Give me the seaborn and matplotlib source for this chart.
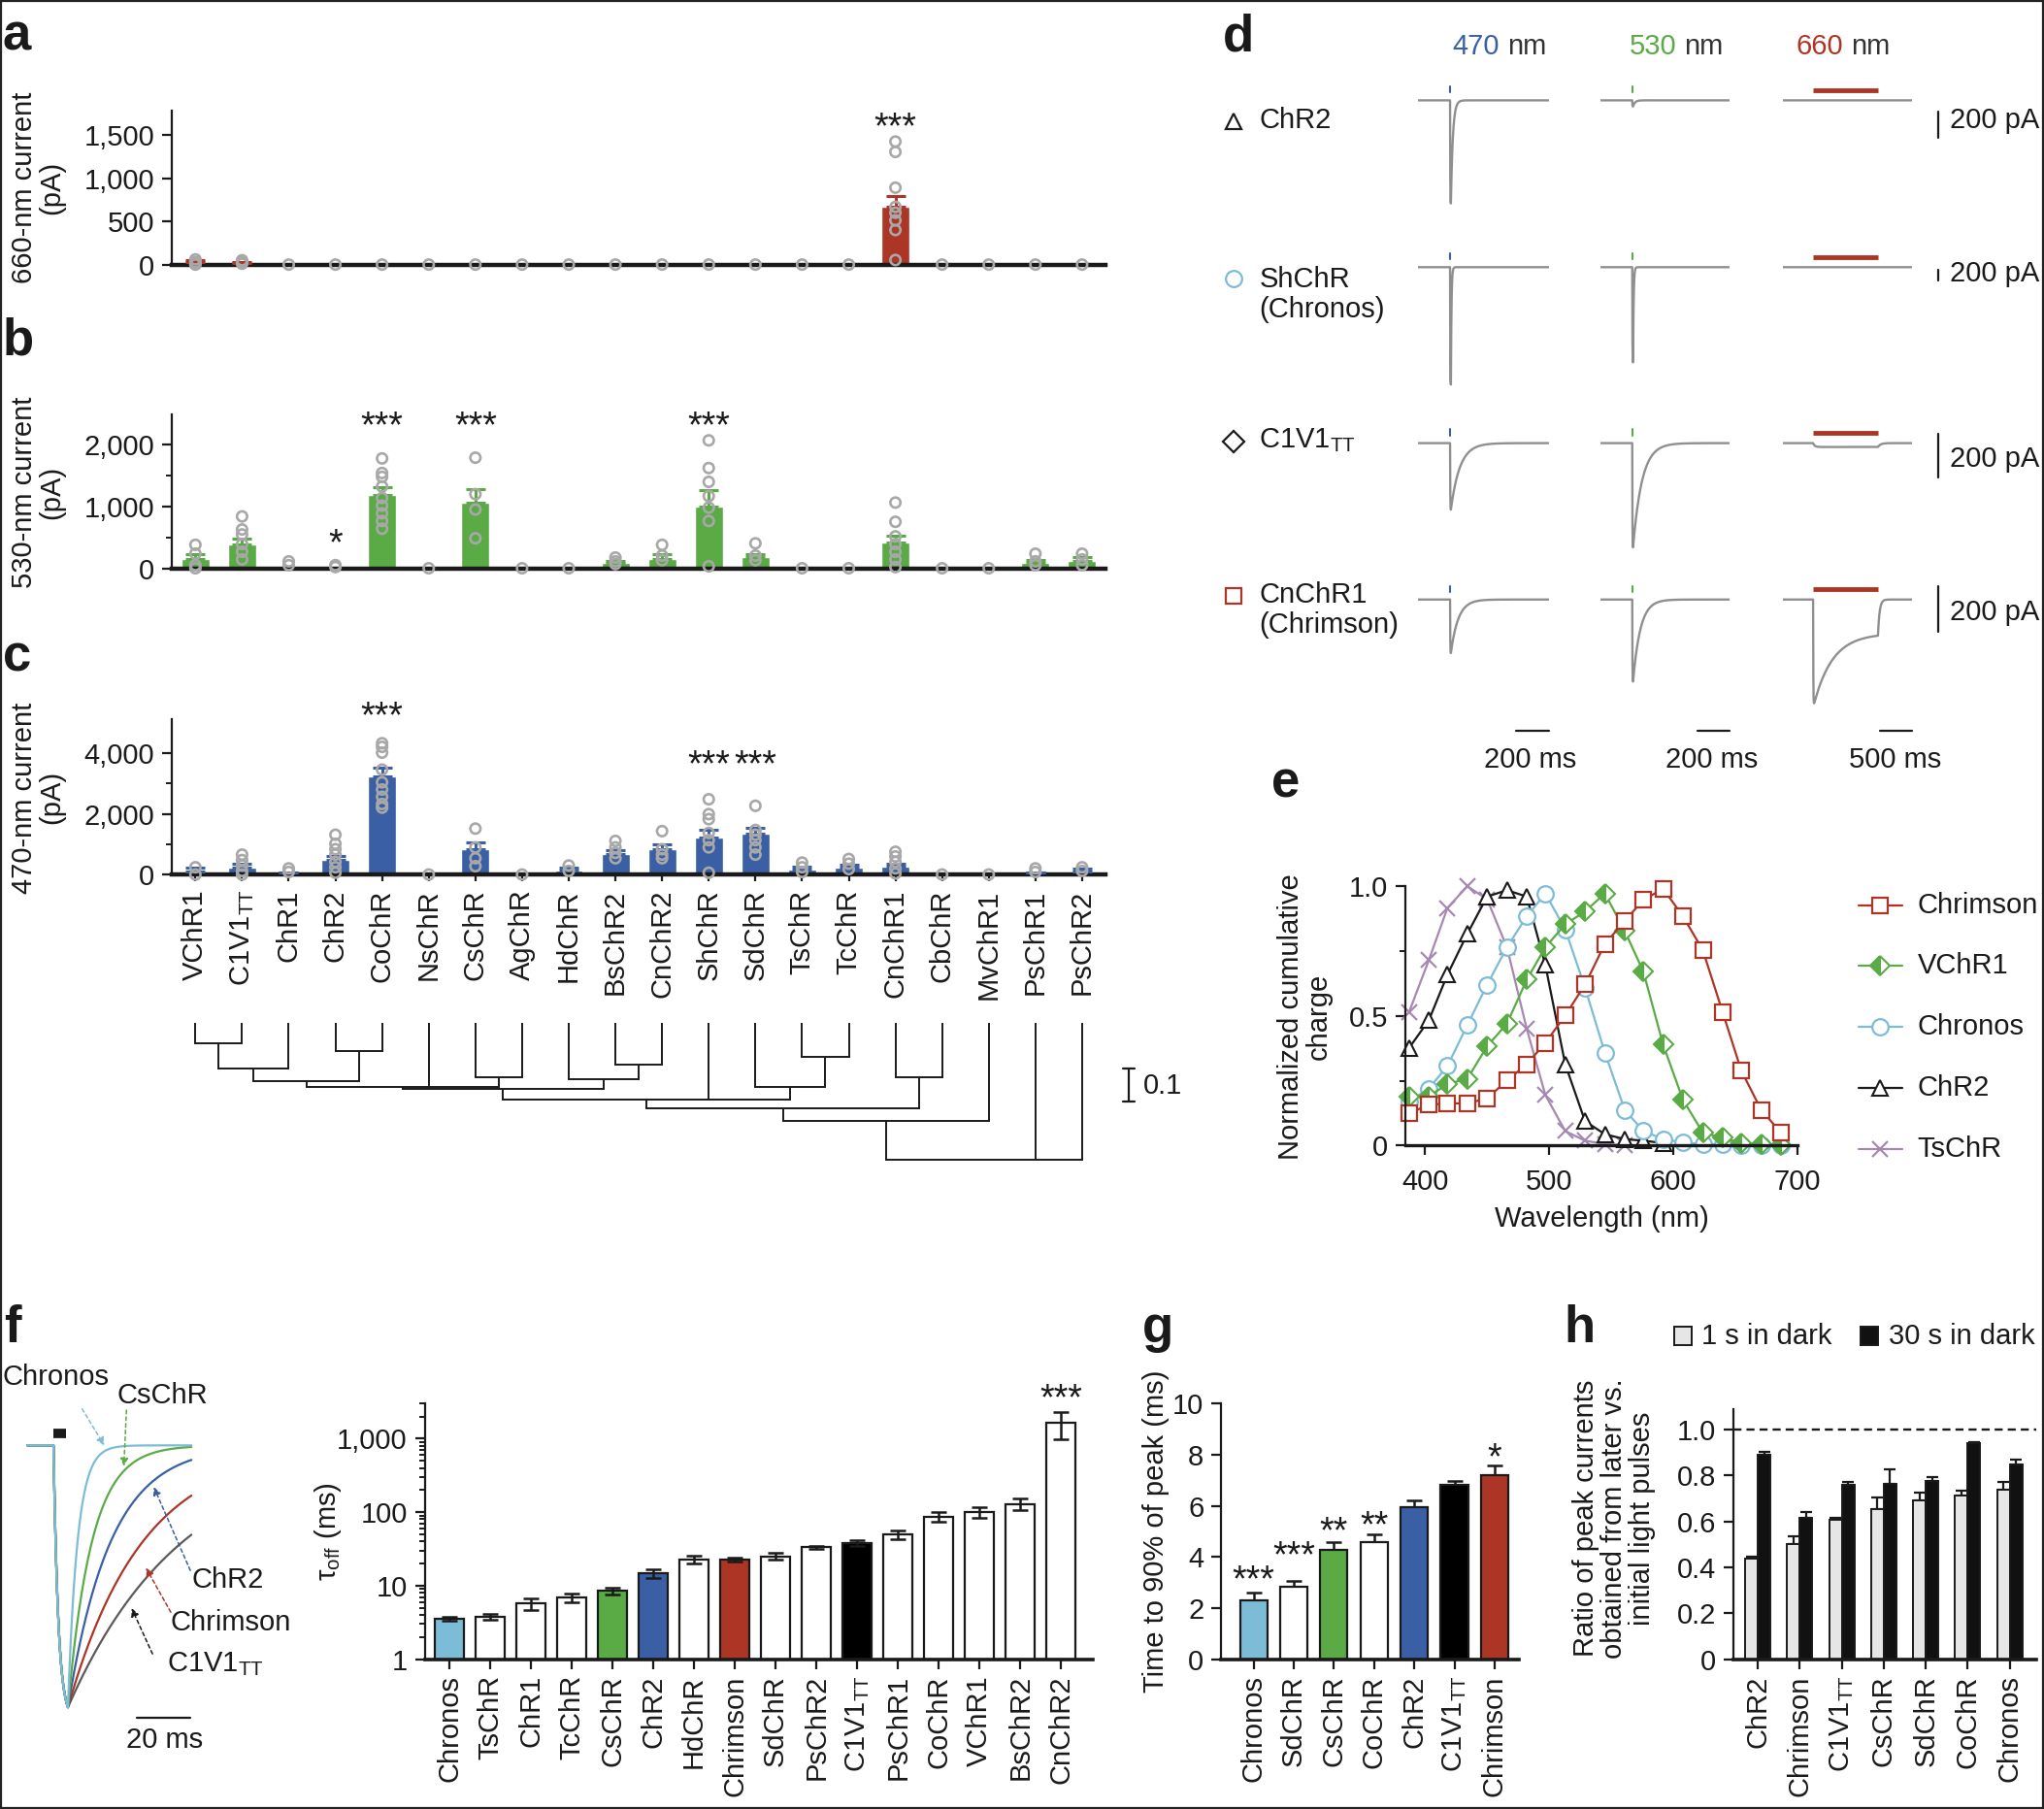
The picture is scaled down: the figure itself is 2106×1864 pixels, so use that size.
import numpy as np
import pandas as pd
import matplotlib
matplotlib.use("Agg")
import matplotlib.pyplot as plt
import seaborn as sns
from matplotlib.patches import Rectangle
from matplotlib.ticker import FuncFormatter, FixedLocator, LogLocator, NullFormatter
from matplotlib.transforms import offset_copy

# ======================= DATA =======================
categories = ['VChR1', 'C1V1TT', 'ChR1', 'ChR2', 'CoChR', 'NsChR', 'CsChR', 'AgChR', 'HdChR', 'BsChR2',
              'CnChR2', 'ShChR', 'SdChR', 'TsChR', 'TcChR', 'CnChR1', 'CbChR', 'MvChR1', 'PsChR1', 'PsChR2']

mean660 = [30, 20, 0, 0, 0, 0, 0, 0, 0, 0, 0, 0, 0, 0, 0, 668, 0, 0, 0, 0]
sem660 = [20, 12, 0, 0, 0, 0, 0, 0, 0, 0, 0, 0, 0, 0, 0, 124, 0, 0, 0, 0]
pts660 = {c: [0] for c in categories}
pts660.update({'VChR1': [60, 30, 10, 0], 'C1V1TT': [50, 30, 10],
               'CnChR1': [1424, 1304, 890, 668, 600, 512, 400, 53]})

mean530 = [142, 390, 31, 25, 1183, 0, 1059, 0, 0, 93, 155, 991, 186, 0, 0, 421, 0, 0, 80, 111]
sem530 = [93, 80, 0, 0, 123, 0, 223, 0, 0, 20, 68, 272, 49, 0, 0, 105, 0, 0, 50, 62]
pts530 = {c: [0] for c in categories}
pts530.update({
    'VChR1': [378, 235, 50, 0], 'C1V1TT': [836, 625, 545, 390, 266, 142],
    'ChR1': [111, 50], 'ChR2': [50, 20],
    'CoChR': [1771, 1536, 1474, 1319, 1133, 1009, 885, 762, 638],
    'CsChR': [1783, 1195, 947, 483], 'BsChR2': [173, 111, 68], 'CnChR2': [378, 204, 130],
    'ShChR': [2062, 1616, 1393, 1164, 978, 762, 31], 'SdChR': [402, 204, 130],
    'CnChR1': [1059, 749, 514, 390, 266, 142, 19], 'PsChR1': [235, 111, 50], 'PsChR2': [235, 142, 50]})

mean470 = [96, 239, 60, 478, 3248, 0, 836, 0, 143, 681, 824, 1206, 1349, 155, 239, 275, 0, 0, 60, 96]
sem470 = [119, 119, 20, 143, 274, 0, 215, 0, 96, 119, 167, 287, 203, 108, 95, 83, 0, 0, 20, 107]
pts470 = {c: [0] for c in categories}
pts470.update({
    'VChR1': [240, 0], 'C1V1TT': [657, 478, 299, 119, 0], 'ChR1': [203, 84],
    'ChR2': [1313, 1015, 836, 657, 418, 239, 60],
    'CoChR': [4334, 4215, 4024, 3463, 3045, 2806, 2567, 2328, 2209],
    'CsChR': [1516, 896, 537, 275], 'HdChR': [299, 119], 'BsChR2': [1110, 896, 716, 537],
    'CnChR2': [1433, 836, 657, 537], 'ShChR': [2484, 1994, 1827, 1373, 1134, 896, 60],
    'SdChR': [2269, 1469, 1313, 1134, 896, 657], 'TsChR': [394, 239, 84], 'TcChR': [513, 358, 179],
    'CnChR1': [752, 597, 418, 203, 36], 'PsChR1': [203, 84], 'PsChR2': [239, 119]})

stars660 = [('CnChR1', '***', 1705)]
stars530 = [('ChR2', '*', 545), ('CoChR', '***', 2452), ('CsChR', '***', 2452), ('ShChR', '***', 2452)]
stars470 = [('CoChR', '***', 5552), ('ShChR', '***', 3940), ('SdChR', '***', 3940)]

# phylogenetic tree: (depth, children); leaves are category indices
tree = (0.42, [
    (0.299, [
        (0.261, [
            (0.236, [
                (0.203, [
                    (0.195, [(0.178, [(0.138, [(0.063, [0, 1]), 2]), (0.086, [3, 4])]), 5, (0.167, [6, 7])]),
                    (0.172, [8, (0.126, [9, 10])]),
                ]),
                11,
                (0.195, [12, (0.103, [13, 14])]),
            ]),
            (0.167, [15, 16]),
        ]),
        17,
    ]),
    18, 19,
])

# panel d: photocurrent traces (pA, ms)
d_rows = ['ChR2', 'ShChR\n(Chronos)', 'C1V1$_{\\rm TT}$', 'CnChR1\n(Chrimson)']
peak470 = [814, 2250, 309, 234]
peak530 = [48, 1825, 485, 359]
peak660 = [0, 0, 18, 473]
steady660 = [0, 0, 18, 148]
tau_off_d = [12, 3.6, 55, 45]
tau_des_660 = 290
pulse_time = 195
pulse_dur = 5
light660 = (462, 1467)

# panel e: action spectra
wavelength = [387, 403, 418, 434, 450, 466, 482, 497, 513, 529, 545, 561, 576, 592, 608, 624, 640, 655, 671, 687]
spec_chrimson = [0.125, 0.157, 0.163, 0.163, 0.182, 0.251, 0.314, 0.396, 0.502, 0.621, 0.778, 0.866, 0.948, 0.99,
                 0.884, 0.753, 0.514, 0.289, 0.138, 0.05]
spec_vchr1 = [0.188, 0.19, 0.238, 0.257, 0.383, 0.47, 0.64, 0.765, 0.853, 0.903, 0.972, 0.828, 0.671, 0.389,
              0.176, 0.05, 0.03, 0.01, 0.005, 0.003]
spec_chronos = [0.17, 0.22, 0.307, 0.464, 0.62, 0.765, 0.884, 0.972, 0.834, 0.609, 0.358, 0.138, 0.056, 0.025,
                0.012, 0.006, 0.004, 0.002, 0.0, 0.0]
spec_chr2 = [0.376, 0.483, 0.659, 0.816, 0.96, 0.985, 0.96, 0.696, 0.314, 0.094, 0.044, 0.025, 0.019, 0.01,
             np.nan, np.nan, np.nan, np.nan, np.nan, np.nan]
spec_tschr = [0.514, 0.715, 0.916, 1.0, 0.95, 0.765, 0.45, 0.195, 0.056, 0.019, 0.006, 0.002,
              np.nan, np.nan, np.nan, np.nan, np.nan, np.nan, np.nan, np.nan]

# panel f
f_trace_names = ['C1V1TT', 'Chrimson', 'ChR2', 'CsChR', 'Chronos']
f_trace_tau = [43, 28, 16, 9, 3.6]
f_cats = ['Chronos', 'TsChR', 'ChR1', 'TcChR', 'CsChR', 'ChR2', 'HdChR', 'Chrimson', 'SdChR', 'PsChR2',
          'C1V1TT', 'PsChR1', 'CoChR', 'VChR1', 'BsChR2', 'CnChR2']
f_tau = [3.56, 3.8, 5.7, 6.9, 8.5, 14.8, 22.6, 22.6, 25.1, 33.3, 38, 50, 87.6, 101, 130, 1660]
f_sem = [0.2, 0.37, 1.06, 0.9, 0.95, 2.0, 2.6, 1.5, 2.7, 1.6, 3.4, 6.8, 14, 16, 24, 680]
f_stars = [('CnChR2', '***', 4790)]

# panel g
g_cats = ['Chronos', 'SdChR', 'CsChR', 'CoChR', 'ChR2', 'C1V1TT', 'Chrimson']
g_time = [2.31, 2.85, 4.26, 4.58, 5.96, 6.82, 7.22]
g_sem = [0.29, 0.2, 0.33, 0.29, 0.26, 0.14, 0.38]
g_star_text = ['***', '***', '**', '**', '', '', '*']
g_star_y = [3.46, 4.42, 5.38, 5.58, np.nan, np.nan, 8.27]

# panel h
h_cats = ['ChR2', 'Chrimson', 'C1V1TT', 'CsChR', 'SdChR', 'CoChR', 'Chronos']
h_conds = ['1 s in dark', '30 s in dark']
h_1s = [0.437, 0.501, 0.606, 0.652, 0.692, 0.713, 0.738]
h_1s_sem = [0.01, 0.036, 0.01, 0.053, 0.036, 0.023, 0.036]
h_30s = [0.893, 0.616, 0.759, 0.766, 0.777, 0.943, 0.85]
h_30s_sem = [0.01, 0.026, 0.015, 0.061, 0.018, 0.005, 0.021]

# colours
RED = '#ad3526'
GREEN = '#5aab46'
BLUE = '#3a5fa5'
LBLUE = '#7dbcd6'
PURPLE = '#a688b0'
GRAY = '#8f8f8f'


def tick_label(name):
    return 'C1V1$_{\\rm TT}$' if name == 'C1V1TT' else name


# ======================= STYLE =======================
sns.set_theme(style="ticks")
plt.rcParams["font.family"] = ["Liberation Sans", "DejaVu Sans"]
plt.rcParams.update({
    "mathtext.fontset": "custom", "mathtext.rm": "Liberation Sans",
    "mathtext.it": "Liberation Sans:italic", "mathtext.bf": "Liberation Sans:bold",
    "font.size": 21, "axes.labelsize": 21, "xtick.labelsize": 21, "ytick.labelsize": 21,
    "axes.linewidth": 1.6, "xtick.major.width": 1.6, "ytick.major.width": 1.6,
    "xtick.major.size": 7, "ytick.major.size": 7, "ytick.minor.size": 4, "ytick.minor.width": 1.4,
    "xtick.color": "k", "ytick.color": "k", "axes.edgecolor": "k", "text.color": "k",
    "axes.labelcolor": "k", "xtick.major.pad": 5, "ytick.major.pad": 6,
})
FS = 21
STAR_FS = 27

fig = plt.figure(figsize=(21.06, 18.64), dpi=100)
W, H = 1568.0, 1388.0


def add_ax(l, t, r, b):
    return fig.add_axes([l / W, 1 - b / H, (r - l) / W, (b - t) / H])


def place_label(ax, axis, X, Y):
    pos = ax.get_position()
    xf = (X / W - pos.x0) / pos.width
    yf = ((1 - Y / H) - pos.y0) / pos.height
    a = ax.yaxis if axis == 'y' else ax.xaxis
    a.set_label_coords(xf, yf)
    a.label.set_va('center')
    a.label.set_ha('center')


def stars(ax, x, y, s):
    tr = offset_copy(ax.transData, fig=fig, x=0, y=-21, units='dots')
    ax.text(x, y, s, transform=tr, ha='center', va='baseline', fontsize=STAR_FS, clip_on=False)


# ======================= PANELS a-c =======================
def current_panel(box, means, sems, pts, color, ymax, major, minor, star_list, ylabel, lab_xy, show_x):
    ax = add_ax(*box)
    n = len(categories)
    sns.barplot(x=categories, y=means, order=categories, color=color, saturation=1, width=0.6,
                errorbar=None, ax=ax, zorder=2)
    xs = np.arange(n)
    m = np.array(means, float)
    e = np.array(sems, float)
    k = e > 0
    ax.errorbar(xs[k], m[k], yerr=[np.zeros(k.sum()), e[k]], fmt='none', ecolor=color,
                elinewidth=2.2, capsize=7, capthick=2.2, zorder=3)
    df = pd.DataFrame([(c, v) for c in categories for v in pts[c]], columns=['cat', 'val'])
    sns.stripplot(data=df, x='cat', y='val', order=categories, jitter=False, size=7.5,
                  facecolor='none', edgecolor='#a8a8a8', linewidth=1.9, ax=ax, zorder=4, clip_on=False)
    ax.set_xlim(-0.5, n - 0.5)
    ax.set_ylim(0, ymax)
    ax.set_xlabel('')
    ax.set_yticks(major)
    ax.yaxis.set_minor_locator(FixedLocator(minor))
    ax.yaxis.set_major_formatter(FuncFormatter(lambda v, p: f"{int(round(v)):,}"))
    sns.despine(ax=ax)
    ax.spines['bottom'].set_linewidth(3.2)
    if show_x:
        ax.set_xticks(xs)
        ax.set_xticklabels([tick_label(c) for c in categories], rotation=90)
        ax.tick_params(axis='x', length=5, pad=6)
    else:
        ax.tick_params(axis='x', length=0, labelbottom=False)
    ax.set_ylabel(ylabel, linespacing=1.0)
    place_label(ax, 'y', *lab_xy)
    for c, s, y in star_list:
        stars(ax, categories.index(c), y, s)
    return ax


current_panel((132, 85, 848, 203), mean660, sem660, pts660, RED, 1780, [0, 500, 1000, 1500], [],
              stars660, '660-nm current\n(pA)', (29, 144), False)
current_panel((132, 318, 848, 436), mean530, sem530, pts530, GREEN, 2480, [0, 1000, 2000], [500, 1500],
              stars530, '530-nm current\n(pA)', (29, 378), False)
axc = current_panel((132, 552, 848, 671), mean470, sem470, pts470, BLUE, 5120, [0, 2000, 4000],
                    [1000, 3000], stars470, '470-nm current\n(pA)', (29, 612), True)

# dendrogram
axt = add_ax(132, 785, 848, 890)
axt.set_xlim(-0.5, len(categories) - 0.5)
axt.set_ylim(0.42, 0)
axt.axis('off')


def draw_tree(ax, node):
    if isinstance(node, int):
        return float(node), 0.0
    depth, children = node
    xs = []
    for ch in children:
        cx, cd = draw_tree(ax, ch)
        ax.plot([cx, cx], [cd, depth], color='k', lw=1.4, solid_capstyle='butt', clip_on=False)
        xs.append(cx)
    ax.plot([min(xs), max(xs)], [depth, depth], color='k', lw=1.4, solid_capstyle='projecting', clip_on=False)
    return (min(xs) + max(xs)) / 2, depth


draw_tree(axt, tree)
# 0.1 scale bar
axt.plot([20.0, 20.0], [0.14, 0.24], color='k', lw=1.6, clip_on=False)
axt.plot([19.88, 20.12], [0.14, 0.14], color='k', lw=1.6, clip_on=False)
axt.plot([19.88, 20.12], [0.24, 0.24], color='k', lw=1.6, clip_on=False)

# ======================= PANEL d =======================
d_cols = [(1088, 1188), (1228, 1327), (1368, 1467)]
d_base = [77, 205, 340, 460]
d_scale = [10.3, 25.0, 6.06, 5.7]          # pA per layout pixel
d_tmax = [800, 800, 2000]
d_bar_top = [-9, -2, 7, 10]                  # scale-bar top, px above baseline


def flash_trace(t, amp, tau, ton=1.0):
    i = np.zeros_like(t)
    on = (t >= pulse_time) & (t < pulse_time + pulse_dur)
    norm = 1 - np.exp(-pulse_dur / ton)
    i[on] = -amp * (1 - np.exp(-(t[on] - pulse_time) / ton)) / norm
    off = t >= pulse_time + pulse_dur
    i[off] = -amp * np.exp(-(t[off] - pulse_time - pulse_dur) / tau)
    return i


def long_trace(t, peak, steady, tau_des, tau_off, ton):
    i = np.zeros_like(t)
    t_on, t_off = light660
    on = (t >= t_on) & (t < t_off)
    tt = t[on] - t_on
    i[on] = -(1 - np.exp(-tt / ton)) * (steady + (peak - steady) * np.exp(-tt / tau_des))
    end_val = i[on][-1]
    off = t >= t_off
    i[off] = end_val * np.exp(-(t[off] - t_off) / tau_off)
    return i


for r in range(4):
    s = d_scale[r]
    for c in range(3):
        l, rr = d_cols[c]
        ax = add_ax(l, d_base[r] - 15, rr, d_base[r] + 95)
        tmax = d_tmax[c]
        t = np.arange(0, tmax, 0.25 if c < 2 else 1.0)
        if c == 0:
            y = flash_trace(t, peak470[r], tau_off_d[r])
            ax.plot([pulse_time, pulse_time], [6 * s, 10.5 * s], color=BLUE, lw=1.5)
        elif c == 1:
            y = flash_trace(t, peak530[r], tau_off_d[r])
            ax.plot([pulse_time, pulse_time], [6 * s, 10.5 * s], color=GREEN, lw=1.5)
        else:
            if peak660[r] > 0:
                y = long_trace(t, peak660[r], steady660[r], tau_des_660, 25 if r == 3 else 40,
                               3 if r == 3 else 25)
            else:
                y = np.zeros_like(t)
            ax.plot(light660, [8 * s, 8 * s], color=RED, lw=3.5, solid_capstyle='butt')
            bt = d_bar_top[r] * s
            ax.plot([2400, 2400], [bt, bt - 200], color='k', lw=1.6, clip_on=False)
        ax.plot(t, y, color=GRAY, lw=1.7)
        ax.set_xlim(0, tmax)
        ax.set_ylim(-95 * s, 15 * s)
        ax.axis('off')
        if r == 3:
            yb = -(561 - d_base[r]) * s
            xb = (tmax - 200, tmax) if c < 2 else (tmax - 500, tmax)
            ax.plot(xb, [yb, yb], color='k', lw=1.6, clip_on=False)

# ======================= PANEL e =======================
axe = add_ax(1078, 680, 1378.6, 879)
spectra = [('TsChR', spec_tschr, PURPLE, 'x', dict(ms=12, mew=1.6)),
           ('ChR2', spec_chr2, 'k', '^', dict(ms=12, mew=1.5, mfc='white')),
           ('Chronos', spec_chronos, LBLUE, 'o', dict(ms=12, mew=1.6, mfc='white')),
           ('VChR1', spec_vchr1, GREEN, 'D', dict(ms=10, mew=1.5, fillstyle='left', mfc=GREEN, mfcalt='white')),
           ('Chrimson', spec_chrimson, RED, 's', dict(ms=12, mew=1.6, mfc='white'))]
for name, vals, col, mk, kw in spectra:
    axe.plot(wavelength, vals, color=col, lw=1.6, marker=mk, mec=col, clip_on=False, **kw)
axe.set_xlim(384, 700)
axe.set_ylim(0, 1.0)
axe.set_xticks([400, 500, 600, 700])
axe.set_yticks([0, 0.5, 1.0])
axe.set_yticklabels(['0', '0.5', '1.0'])
axe.yaxis.set_minor_locator(FixedLocator([0.25, 0.75]))
axe.tick_params(axis='x', pad=10)
sns.despine(ax=axe)
axe.spines['bottom'].set_linewidth(2.4)
axe.set_ylabel('Normalized cumulative\ncharge', linespacing=1.0)
axe.set_xlabel('Wavelength (nm)')
place_label(axe, 'y', 1001, 780)
place_label(axe, 'x', 1229, 935)

# ======================= PANEL f =======================
f_color_map = {'Chronos': LBLUE, 'CsChR': GREEN, 'ChR2': BLUE, 'Chrimson': RED, 'C1V1TT': '#5a5a5a'}
axfl = add_ax(5, 1090, 150, 1315)
tt = np.arange(-9.8, 51.7, 0.05)
for name, tau in zip(f_trace_names, f_trace_tau):
    tpk = 5.4
    y = np.zeros_like(tt)
    on = (tt >= 0) & (tt < tpk)
    y[on] = -(1 - np.exp(-tt[on] / 1.8)) / (1 - np.exp(-tpk / 1.8))
    off = tt >= tpk
    y[off] = -np.exp(-(tt[off] - tpk) / tau)
    axfl.plot(tt, y, color=f_color_map[name], lw=1.6)
axfl.plot([0, 4.6], [0.045, 0.045], color='k', lw=7, solid_capstyle='butt')
axfl.plot([31.2, 51.2], [-1.04, -1.04], color='k', lw=1.6, clip_on=False)
axfl.set_xlim(-17.6, 53.2)
axfl.set_ylim(-1.025, 0.0945)
axfl.axis('off')

axf = add_ax(326, 1077, 838, 1273)
f_pal = {c: f_color_map.get(c, '#ffffff') if c != 'C1V1TT' else '#000000' for c in f_cats}
sns.barplot(x=f_cats, y=f_tau, hue=f_cats, order=f_cats, palette=f_pal, legend=False, saturation=1,
            width=0.72, edgecolor='k', linewidth=1.6, errorbar=None, ax=axf, zorder=2)
axf.set_yscale('log')
axf.errorbar(np.arange(len(f_cats)), f_tau, yerr=f_sem, fmt='none', ecolor='k', elinewidth=1.8,
             capsize=6, capthick=1.8, zorder=3)
axf.set_ylim(1, 3000)
axf.set_xlim(-0.6, len(f_cats) - 0.23)
axf.set_yticks([1, 10, 100, 1000])
axf.set_yticklabels(['1', '10', '100', '1,000'])
axf.yaxis.set_minor_locator(LogLocator(base=10, subs=np.arange(2, 10)))
axf.yaxis.set_minor_formatter(NullFormatter())
axf.set_xticks(np.arange(len(f_cats)))
axf.set_xticklabels([tick_label(c) for c in f_cats], rotation=90)
sns.despine(ax=axf)
axf.spines['bottom'].set_linewidth(2.6)
axf.set_ylabel('τ$_{\\rm off}$ (ms)')
place_label(axf, 'y', 252, 1175)
for c, s, y in f_stars:
    stars(axf, f_cats.index(c), y, s)

# ======================= PANEL g =======================
axg = add_ax(937, 1077, 1165, 1273)
g_pal = {'Chronos': LBLUE, 'SdChR': '#ffffff', 'CsChR': GREEN, 'CoChR': '#ffffff', 'ChR2': BLUE,
         'C1V1TT': '#000000', 'Chrimson': RED}
sns.barplot(x=g_cats, y=g_time, hue=g_cats, order=g_cats, palette=g_pal, legend=False, saturation=1,
            width=0.68, edgecolor='k', linewidth=1.6, errorbar=None, ax=axg, zorder=2)
axg.errorbar(np.arange(len(g_cats)), g_time, yerr=[np.zeros(len(g_cats)), g_sem], fmt='none', ecolor='k',
             elinewidth=1.8, capsize=6, capthick=1.8, zorder=1.5)
axg.set_ylim(0, 10)
axg.set_xlim(-0.8, 6.6)
axg.set_yticks([0, 2, 4, 6, 8, 10])
axg.set_xticks(np.arange(len(g_cats)))
axg.set_xticklabels([tick_label(c) for c in g_cats], rotation=90)
sns.despine(ax=axg)
axg.spines['bottom'].set_linewidth(2.6)
axg.set_ylabel('Time to 90% of peak (ms)')
place_label(axg, 'y', 887, 1175)
for i, (s, y) in enumerate(zip(g_star_text, g_star_y)):
    if s:
        stars(axg, i, y, s)

# ======================= PANEL h =======================
axh = add_ax(1330, 1081, 1562, 1273)
hdf = pd.DataFrame({'cat': h_cats * 2, 'ratio': h_1s + h_30s,
                    'cond': [h_conds[0]] * len(h_cats) + [h_conds[1]] * len(h_cats)})
h_pal = {h_conds[0]: '#e6e6e6', h_conds[1]: '#111111'}
sns.barplot(data=hdf, x='cat', y='ratio', hue='cond', order=h_cats, hue_order=h_conds, palette=h_pal,
            width=0.6, edgecolor='k', linewidth=1.4, saturation=1, errorbar=None, legend=False, ax=axh, zorder=2)
for cont, means, sems in zip(axh.containers, [h_1s, h_30s], [h_1s_sem, h_30s_sem]):
    xs = [p.get_x() + p.get_width() / 2 for p in cont]
    axh.errorbar(xs, means, yerr=[np.zeros(len(sems)), sems], fmt='none', ecolor='k', elinewidth=1.6,
                 capsize=4, capthick=1.6, zorder=1.5)
axh.axhline(1.0, color='k', lw=1.7, ls=(0, (3.5, 2.2)), zorder=1)
axh.set_ylim(0, 1.091)
axh.set_xlim(-0.575, 6.63)
axh.set_yticks([0, 0.2, 0.4, 0.6, 0.8, 1.0])
axh.set_yticklabels(['0', '0.2', '0.4', '0.6', '0.8', '1.0'])
axh.set_xticks(np.arange(len(h_cats)))
axh.set_xticklabels([tick_label(c) for c in h_cats], rotation=90)
axh.set_xlabel('')
sns.despine(ax=axh)
axh.spines['bottom'].set_linewidth(2.6)
axh.set_ylabel('Ratio of peak currents\nobtained from later vs.\ninitial light pulses', linespacing=1.05)
place_label(axh, 'y', 1238, 1165)

# ======================= OVERLAY (letters, labels, legends) =======================
ov = fig.add_axes([0, 0, 1, 1], zorder=10)
ov.set_xlim(0, W)
ov.set_ylim(H, 0)
ov.axis('off')
ov.add_patch(Rectangle((0.8, 0.8), W - 1.6, H - 1.6, fill=False, ec='#222222', lw=1.6))

for letter, x, y in [('a', 2, 38), ('b', 2, 272), ('c', 2, 515), ('d', 938, 39), ('e', 975, 612),
                     ('f', 3, 1030), ('g', 876, 1030), ('h', 1200, 1030)]:
    ov.text(x, y, letter, fontsize=38, fontweight='bold', ha='left', va='baseline')

ov.text(877, 833, '0.1', fontsize=FS, ha='left', va='center')

# panel d labels
for num, col, xr in [('470', BLUE, 1150), ('530', GREEN, 1286), ('660', RED, 1414)]:
    ov.text(xr, 36, num, color=col, fontsize=FS, ha='right', va='center')
    ov.text(xr + 6, 36, 'nm', color='#333333', fontsize=FS, ha='left', va='center')
d_marker = ['^', 'o', 'D', 's']
d_mcol = ['k', LBLUE, 'k', RED]
d_marker_y = [93, 214, 339, 457]
d_text_y = [92, 226, 338, 468]
for lab, mk, mc, my, ty in zip(d_rows, d_marker, d_mcol, d_marker_y, d_text_y):
    ov.plot([946], [my], marker=mk, ms=12 if mk != 'D' else 11, mfc='none', mec=mc, mew=1.6)
    ov.text(966, ty, lab, fontsize=FS, ha='left', va='center', linespacing=1.15)
for y in [92, 210, 352, 470]:
    ov.text(1496, y, '200 pA', fontsize=FS, ha='left', va='center')
for x, s in [(1174, '200 ms'), (1313, '200 ms'), (1454, '500 ms')]:
    ov.text(x, 583, s, fontsize=FS, ha='center', va='center')

# panel e legend
for (name, vals, col, mk, kw), y in zip(spectra[::-1], [695, 741, 788, 835, 882]):
    ov.plot([1426, 1459], [y, y], color=col, lw=1.6)
    ov.plot([1442.5], [y], color=col, marker=mk, mec=col, **kw)
    ov.text(1471, y, name, fontsize=FS, ha='left', va='center')

# panel f trace annotations
ov.text(2, 1057, 'Chronos', fontsize=FS, ha='left', va='center')
ov.text(90, 1071, 'CsChR', fontsize=FS, ha='left', va='center')
ov.text(147, 1212, 'ChR2', fontsize=FS, ha='left', va='center')
ov.text(131, 1245, 'Chrimson', fontsize=FS, ha='left', va='center')
ov.text(128, 1277, 'C1V1$_{\\rm TT}$', fontsize=FS, ha='left', va='center')
ov.text(126, 1335, '20 ms', fontsize=FS, ha='center', va='center')
for (x0, y0), (x1, y1), col in [((63, 1081), (80, 1109), LBLUE), ((97, 1082), (95, 1125), GREEN),
                                ((146, 1205), (118, 1141), BLUE), ((131, 1237), (112, 1203), RED),
                                ((117, 1269), (101, 1234), 'k')]:
    ov.annotate('', xy=(x1, y1), xytext=(x0, y0),
                arrowprops=dict(arrowstyle='-|>', color=col, lw=1.1, ls=(0, (2.5, 2)), mutation_scale=12,
                                shrinkA=0, shrinkB=0))

# panel h legend
ov.add_patch(Rectangle((1284, 1018), 14, 14, fc='#e6e6e6', ec='k', lw=1.4))
ov.text(1305, 1025, '1 s in dark', fontsize=FS, ha='left', va='center')
ov.add_patch(Rectangle((1427, 1018), 14, 14, fc='#111111', ec='k', lw=1.4))
ov.text(1449, 1025, '30 s in dark', fontsize=FS, ha='left', va='center')

fig.savefig('out.png', dpi=100)
